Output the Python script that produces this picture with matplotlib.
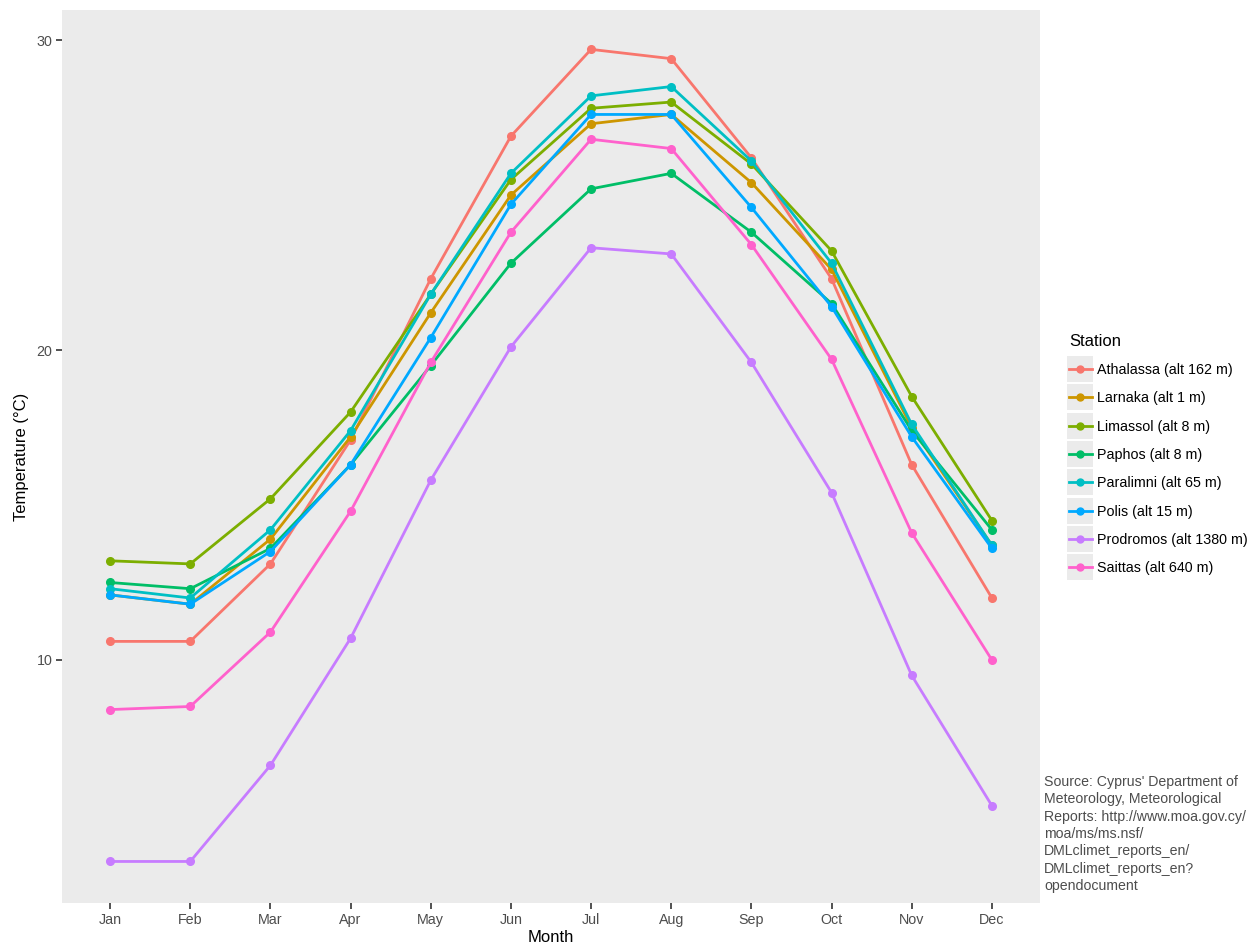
import matplotlib
matplotlib.use("Agg")
import matplotlib.pyplot as plt
from matplotlib.lines import Line2D
from matplotlib.patches import Rectangle

# ------------------------------------------------------------ dados
meses = ["Jan", "Feb", "Mar", "Apr", "May", "Jun",
         "Jul", "Aug", "Sep", "Oct", "Nov", "Dec"]

estacoes = ["Athalassa (alt 162 m)", "Larnaka (alt 1 m)", "Limassol (alt 8 m)",
            "Paphos (alt 8 m)", "Paralimni (alt 65 m)", "Polis (alt 15 m)",
            "Prodromos (alt 1380 m)", "Saittas (alt 640 m)"]

athalassa = [10.6, 10.6, 13.1, 17.1, 22.3, 26.9, 29.7, 29.4, 26.2, 22.3, 16.3, 12.0]
larnaka   = [12.1, 11.8, 13.9, 17.2, 21.2, 25.0, 27.3, 27.6, 25.4, 22.6, 17.5, 13.7]
limassol  = [13.2, 13.1, 15.2, 18.0, 21.8, 25.5, 27.8, 28.0, 26.0, 23.2, 18.5, 14.5]
paphos    = [12.5, 12.3, 13.6, 16.3, 19.5, 22.8, 25.2, 25.7, 23.8, 21.5, 17.4, 14.2]
paralimni = [12.3, 12.0, 14.2, 17.4, 21.8, 25.7, 28.2, 28.5, 26.1, 22.8, 17.6, 13.7]
polis     = [12.1, 11.8, 13.5, 16.3, 20.4, 24.7, 27.6, 27.6, 24.6, 21.4, 17.2, 13.6]
prodromos = [3.5, 3.5, 6.6, 10.7, 15.8, 20.1, 23.3, 23.1, 19.6, 15.4, 9.5, 5.3]
saittas   = [8.4, 8.5, 10.9, 14.8, 19.6, 23.8, 26.8, 26.5, 23.4, 19.7, 14.1, 10.0]

series = [athalassa, larnaka, limassol, paphos, paralimni, polis, prodromos, saittas]

# paleta hue padrão do ggplot2 (8 níveis)
CORES = ["#F8766D", "#CD9600", "#7CAE00", "#00BE67",
         "#00BFC4", "#00A9FF", "#C77CFF", "#FF61CC"]

FONTE = "Liberation Sans"
CINZA_TXT = "#4D4D4D"
FUNDO = "#EBEBEB"

fonte = "Source: Cyprus' Department of\nMeteorology, Meteorological\n" \
        "Reports: http://www.moa.gov.cy/\nmoa/ms/ms.nsf/\n" \
        "DMLclimet_reports_en/\nDMLclimet_reports_en?\nopendocument"

# ------------------------------------------------------------ figura
W, H = 1258, 946
fig = plt.figure(figsize=(W / 100, H / 100), dpi=100)
fig.patch.set_facecolor("white")
ax = fig.add_axes([62 / W, 1 - 903 / H, (1040 - 62) / W, (903 - 10) / H])
ax.set_facecolor(FUNDO)

x = list(range(len(meses)))
for nome, ys, cor in zip(estacoes, series, CORES):
    ax.plot(x, ys, color=cor, lw=2.0, marker="o", ms=5.5, label=nome,
            solid_joinstyle="round")

ax.set_xlim(-0.6, 11.6)
ax.set_ylim(2.16, 30.97)
ax.set_xticks(x)
ax.set_xticklabels(meses)
ax.set_yticks([10, 20, 30])
for s in ax.spines.values():
    s.set_visible(False)
ax.tick_params(axis="both", length=4, width=1.2, color="#333333",
               labelcolor=CINZA_TXT, labelsize=10.3, pad=3)
for t in ax.get_xticklabels() + ax.get_yticklabels():
    t.set_fontfamily(FONTE)

ax.set_xlabel("Month", fontsize=12, family=FONTE, labelpad=2)
ax.set_ylabel("Temperature (°C)", fontsize=12, family=FONTE, labelpad=5)

# ------------------------------------------------------------ legenda
handles = [Line2D([], [], color=c, lw=2.0, marker="o", ms=5) for c in CORES]
leg = ax.legend(handles, estacoes, loc="upper left",
                bbox_to_anchor=(1056 / W, 1 - 321 / H),
                bbox_transform=fig.transFigure, frameon=False,
                title="Station", alignment="left", handlelength=1.6,
                handletextpad=0.4, labelspacing=1.0,
                prop={"family": FONTE, "size": 10.3},
                title_fontproperties={"family": FONTE, "size": 12})

# fundos cinza das chaves, alinhados com cada entrada desenhada
fig.canvas.draw()
rend = fig.canvas.get_renderer()
for h in leg.legend_handles:
    bb = h.get_window_extent(rend)
    xc, yc = (bb.x0 + bb.x1) / 2, (bb.y0 + bb.y1) / 2
    fig.patches.append(Rectangle(((xc - 13) / W, (yc - 13) / H), 26 / W, 26 / H,
                                 transform=fig.transFigure, fc=FUNDO,
                                 ec="none", zorder=-1))

fig.text(1044 / W, 1 - 775 / H, fonte, ha="left", va="top", fontsize=10.2,
         family=FONTE, color=CINZA_TXT, linespacing=1.3)

fig.savefig("out.png", dpi=100)
